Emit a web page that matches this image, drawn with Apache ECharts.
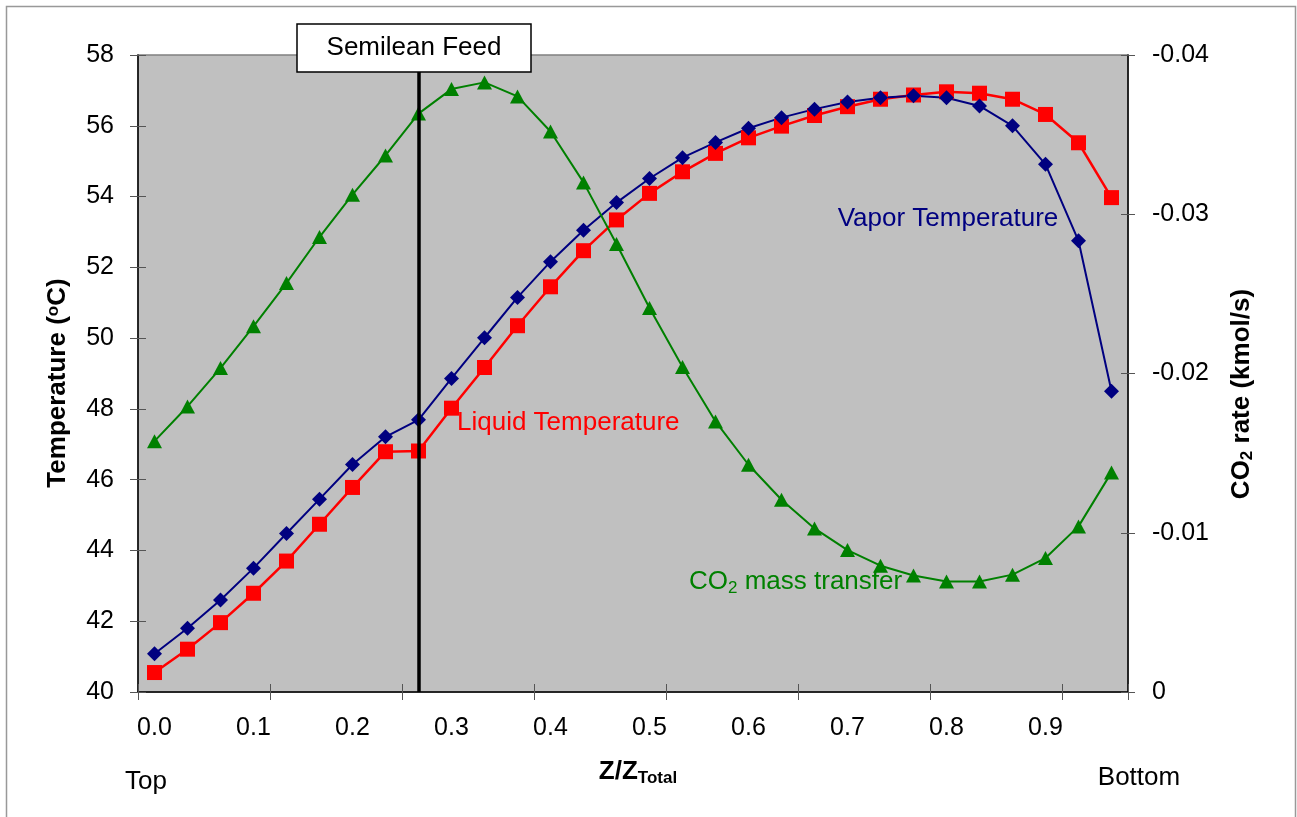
<!DOCTYPE html>
<html>
<head>
<meta charset="utf-8">
<script src="https://cdn.jsdelivr.net/npm/echarts@6/dist/echarts.min.js"></script>
<style>
  html, body { margin: 0; padding: 0; background: #fff; }
  #chart { width: 1297px; height: 817px; }
</style>
</head>
<body>
<div id="chart"></div>
<script>
// stage position along the column (Z/Ztotal), top -> bottom
const stageZ = ['0.000','0.033','0.067','0.100','0.133','0.167','0.200','0.233','0.267','0.300',
                '0.333','0.367','0.400','0.433','0.467','0.500','0.533','0.567','0.600','0.633',
                '0.667','0.700','0.733','0.767','0.800','0.833','0.867','0.900','0.933','0.967'];
const vaporTemp = [41.08, 41.80, 42.60, 43.50, 44.48, 45.45, 46.43, 47.21, 47.69, 48.86,
                   50.01, 51.15, 52.16, 53.05, 53.83, 54.51, 55.10, 55.53, 55.93, 56.23,
                   56.47, 56.67, 56.79, 56.85, 56.79, 56.56, 56.00, 54.91, 52.75, 48.50];
const liquidTemp = [40.55, 41.21, 41.96, 42.79, 43.70, 44.74, 45.78, 46.79, 46.81, 48.02,
                    49.17, 50.35, 51.45, 52.47, 53.34, 54.09, 54.70, 55.22, 55.66, 55.99,
                    56.29, 56.54, 56.75, 56.87, 56.96, 56.92, 56.75, 56.32, 55.52, 53.97];
const co2Rate = [-0.01575, -0.01793, -0.02034, -0.02296, -0.02568, -0.02857, -0.03123, -0.03369, -0.03632, -0.03786,
                 -0.03828, -0.03740, -0.03520, -0.03200, -0.02813, -0.02411, -0.02041, -0.01699, -0.01427, -0.01207,
                 -0.01027, -0.00891, -0.00793, -0.00732, -0.00694, -0.00694, -0.00737, -0.00841, -0.01040, -0.01379];
const feedStage = '0.267';

const font = 'Liberation Sans, Arial, sans-serif';
const chart = echarts.init(document.getElementById('chart'));

const tickColor = '#555';
const baseX = {
    type: 'category',
    data: stageZ,
    boundaryGap: true,
    position: 'bottom',
    axisLine: { show: true, lineStyle: { color: '#000', width: 1.5 } },
    axisTick: { show: true, interval: 3, length: 8, lineStyle: { color: tickColor, width: 1 } },
    axisLabel: {
        show: true, interval: 2, margin: 24, color: '#000', fontFamily: font, fontSize: 25,
        formatter: function (v) { return Number(v).toFixed(1); }
    },
    splitLine: { show: false }
};
const tempY = {
    type: 'value', position: 'left', min: 40, max: 58, interval: 2,
    axisLine: { show: true, lineStyle: { color: '#000', width: 1.5 } },
    axisTick: { show: true, length: 8, lineStyle: { color: tickColor, width: 1 } },
    axisLabel: { color: '#000', fontFamily: font, fontSize: 25, margin: 24 },
    splitLine: { show: false }
};
const rateY = {
    type: 'value', position: 'right', min: -0.04, max: 0, interval: 0.01, inverse: true,
    axisLine: { show: true, lineStyle: { color: '#000', width: 1.5 } },
    axisTick: { show: true, length: 7, lineStyle: { color: tickColor, width: 1 } },
    axisLabel: {
        color: '#000', fontFamily: font, fontSize: 25, margin: 24,
        formatter: function (v) { return Math.abs(v) < 1e-9 ? '0' : v.toFixed(2); }
    },
    splitLine: { show: false }
};
// copies that only draw the inner half of the cross ticks
function innerTicks(ax) {
    const c = JSON.parse(JSON.stringify(ax));
    c.axisLine = { show: false };
    c.axisLabel = { show: false };
    c.axisTick.inside = true;
    return c;
}

const option = {
    animation: false,
    backgroundColor: '#fff',
    grid: {
        left: 138, right: 169, top: 55, bottom: 125,
        show: true, backgroundColor: '#c0c0c0', borderColor: '#808080', borderWidth: 1.5,
        outerBoundsMode: 'none'
    },
    xAxis: [baseX, Object.assign(innerTicks(baseX), { data: stageZ })],
    yAxis: [tempY, rateY, innerTicks(tempY), innerTicks(rateY)],
    series: [
        {
            name: 'Liquid Temperature', type: 'line', data: liquidTemp,
            xAxisIndex: 0, yAxisIndex: 0,
            symbol: 'rect', symbolSize: 15,
            itemStyle: { color: '#ff0000' },
            lineStyle: { color: '#ff0000', width: 2.5 }
        },
        {
            name: 'Vapor Temperature', type: 'line', data: vaporTemp,
            xAxisIndex: 0, yAxisIndex: 0,
            symbol: 'diamond', symbolSize: 15,
            itemStyle: { color: '#000080' },
            lineStyle: { color: '#000080', width: 2 }
        },
        {
            name: 'CO2 mass transfer', type: 'line', data: co2Rate,
            xAxisIndex: 0, yAxisIndex: 1,
            symbol: 'triangle', symbolSize: [15, 14],
            itemStyle: { color: '#008000' },
            lineStyle: { color: '#008000', width: 2 },
            markLine: {
                silent: true, symbol: ['none', 'none'],
                label: { show: false },
                lineStyle: { color: '#000', width: 3.5, type: 'solid' },
                emphasis: { disabled: true },
                data: [{ xAxis: feedStage }]
            }
        }
    ],
    graphic: [
        { type: 'rect', z: 100, shape: { x: 6.5, y: 6.5, width: 1289, height: 830 },
          style: { fill: 'none', stroke: '#999', lineWidth: 1.5 } },
        { type: 'rect', z: 100, shape: { x: 297, y: 24, width: 234, height: 48 },
          style: { fill: '#fff', stroke: '#000', lineWidth: 1.5 } },
        { type: 'text', z: 101, style: { x: 414, y: 48, text: 'Semilean Feed', fill: '#000',
          font: '26px ' + font, textAlign: 'center', textVerticalAlign: 'middle' } },
        { type: 'text', z: 101, x: 58, y: 383, rotation: Math.PI / 2,
          style: { x: 0, y: 0, text: 'Temperature ({s|o}C)', fill: '#000',
            font: 'bold 26px ' + font, textAlign: 'center', textVerticalAlign: 'middle',
            rich: { s: { fontSize: 17, fontWeight: 'bold', fontFamily: font, padding: [0, 0, 10, 0] } } } },
        { type: 'text', z: 101, x: 1242, y: 394, rotation: Math.PI / 2,
          style: { x: 0, y: 0, text: 'CO{s|2} rate (kmol/s)', fill: '#000',
            font: 'bold 26px ' + font, textAlign: 'center', textVerticalAlign: 'middle',
            rich: { s: { fontSize: 17, fontWeight: 'bold', fontFamily: font, padding: [10, 0, 0, 0] } } } },
        { type: 'text', z: 101, style: { x: 638, y: 772, text: 'Z/Z{s|Total}', fill: '#000',
          font: 'bold 26px ' + font, textAlign: 'center', textVerticalAlign: 'middle',
          rich: { s: { fontSize: 17, fontWeight: 'bold', fontFamily: font, padding: [12, 0, 0, 0] } } } },
        { type: 'text', z: 101, style: { x: 146, y: 782, text: 'Top', fill: '#000',
          font: '26px ' + font, textAlign: 'center', textVerticalAlign: 'middle' } },
        { type: 'text', z: 101, style: { x: 1139, y: 778, text: 'Bottom', fill: '#000',
          font: '26px ' + font, textAlign: 'center', textVerticalAlign: 'middle' } },
        { type: 'text', z: 101, style: { x: 948, y: 219, text: 'Vapor Temperature', fill: '#000080',
          font: '26px ' + font, textAlign: 'center', textVerticalAlign: 'middle' } },
        { type: 'text', z: 101, style: { x: 457, y: 423, text: 'Liquid Temperature', fill: '#ff0000',
          font: '26px ' + font, textAlign: 'left', textVerticalAlign: 'middle' } },
        { type: 'text', z: 101, style: { x: 689, y: 582, text: 'CO{s|2} mass transfer', fill: '#008000',
          font: '26px ' + font, textAlign: 'left', textVerticalAlign: 'middle',
          rich: { s: { fontSize: 17, fontFamily: font, fill: '#008000', padding: [12, 0, 0, 0] } } } }
    ]
};
chart.setOption(option);
</script>
</body>
</html>
